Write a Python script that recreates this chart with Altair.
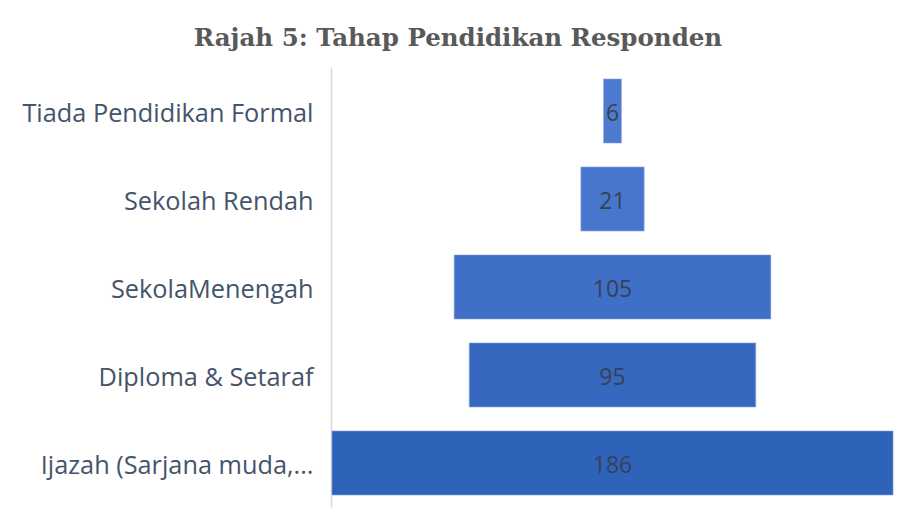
import altair as alt
import pandas as pd

categories = ["Tiada Pendidikan Formal", "Sekolah Rendah", "SekolaMenengah",
              "Diploma & Setaraf", "Ijazah (Sarjana muda,..."]
values = [6, 21, 105, 95, 186]
bar_colors = ["#4e7bd0", "#4876cc", "#3f6fc6", "#3668c0", "#2f62b9"]

df = pd.DataFrame({"cat": categories, "val": values})

base = alt.Chart(df).transform_calculate(
    lo="-datum.val/2", hi="datum.val/2", mid="0"
)

y_enc = alt.Y("cat:N", sort=categories, title=None,
              scale=alt.Scale(paddingInner=0.27, paddingOuter=0.135),
              axis=alt.Axis(domain=True, domainColor="#d9d9d9", domainWidth=1.5,
                            ticks=False, labelFont="Open Sans", labelFontSize=25.3,
                            labelColor="#44546a", labelPadding=18, labelLimit=400,
                            labelOffset=3))

bars = base.mark_bar(stroke="#9db4e4", strokeWidth=1, strokeOpacity=0.6).encode(
    x=alt.X("lo:Q", scale=alt.Scale(domain=[-93.3, 93.3]), axis=None),
    x2="hi:Q",
    y=y_enc,
    color=alt.Color("cat:N", sort=categories,
                    scale=alt.Scale(domain=categories, range=bar_colors), legend=None),
)

labels = base.mark_text(font="Open Sans", fontSize=23, color="#354254", dy=3).encode(
    x=alt.X("mid:Q", scale=alt.Scale(domain=[-93.3, 93.3]), axis=None),
    y=alt.Y("cat:N", sort=categories),
    text="val:Q",
)

chart = (bars + labels).properties(
    width=563, height=440,
    autosize="none",
    padding={"left": 323, "top": 59, "right": 2, "bottom": 7},
    title=alt.Title("Rajah 5: Tahap Pendidikan Responden", font="DejaVu Serif",
                    fontSize=24.5, fontWeight="bold", color="#595959",
                    anchor="middle", frame="bounds", offset=16),
).configure_view(stroke=None)

chart.save("out.html", embed_options={"renderer": "svg", "actions": False})
